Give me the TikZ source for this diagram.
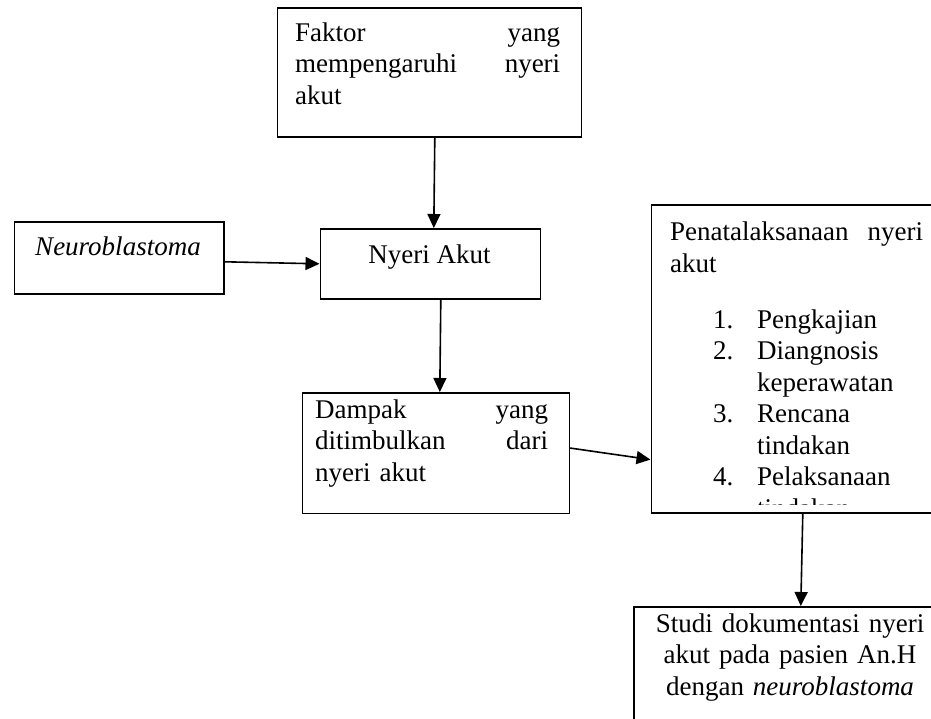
\documentclass[tikz,border=0pt]{standalone}
\usepackage{fontspec}
\setmainfont{Liberation Serif}
\usetikzlibrary{arrows.meta}
\tikzset{
  box/.style={draw, line width=1.6pt, anchor=north west, inner sep=0pt, rectangle},
  txt/.style={inner sep=0pt, font=\fontsize{27}{31.5}\selectfont},
  arr/.style={line width=1.6pt, -{Triangle[length=14pt,width=13pt]}},
}
\newcommand{\itemno}[1]{\hspace*{43pt}\makebox[44pt][l]{#1}}
\newcommand{\itemcont}{\hspace*{87pt}}
\begin{document}
\begin{tikzpicture}[x=1pt,y=-1pt]
\clip (0,0) rectangle (931,719);
\fill[white] (0,0) rectangle (931,719);

% boxes
\node[box, minimum width=304pt, minimum height=129.5pt] (faktor) at (276.5,7) {};
\node[box, minimum width=209.5pt, minimum height=72pt] (neuro) at (13.5,221) {};
\node[box, minimum width=220pt, minimum height=70pt] (nyeri) at (319.5,228) {};
\node[box, minimum width=267pt, minimum height=120.5pt] (dampak) at (301.5,392) {};
\node[box, minimum width=310pt, minimum height=308pt] (penata) at (650.5,204) {};
\node[box, minimum width=327pt, minimum height=154pt] (studi) at (633,606) {};

% texts
\node[txt, anchor=base west, text width=265pt, align=left] (faktort) at (295,41.5)
  {Faktor\hfill yang\\ mempengaruhi\hfill nyeri\\ akut};
\node[txt, anchor=base] (neurot) at (118,255) {\itshape Neuroblastoma};
\node[txt, anchor=base] (nyerit) at (429.5,263) {Nyeri Akut};
\node[txt, anchor=base west, text width=233pt, align=left] (dampakt) at (315,418)
  {Dampak\hfill yang\\ ditimbulkan\hfill dari\\ nyeri akut};
\begin{scope}
  \clip (penata.north west) rectangle ([yshift=9pt]penata.south east);
  \node[txt, anchor=base west, text width=253pt, align=left] (penatat) at (670,241)
    {Penatalaksanaan\hfill nyeri\\ akut\\[24pt]
     \itemno{1.}Pengkajian\\
     \itemno{2.}Diangnosis\\
     \itemcont keperawatan\\
     \itemno{3.}Rencana\\
     \itemcont tindakan\\
     \itemno{4.}Pelaksanaan\\
     \itemcont tindakan};
\end{scope}
\node[txt, anchor=base, text width=290pt, align=center] (studit) at (790,632)
  {Studi dokumentasi nyeri\\ akut pada pasien An.H\\ dengan \textit{neuroblastoma}};

% connectors
\draw[arr] ([xshift=5.5pt]faktor.south) -- ([xshift=3.5pt]nyeri.north);
\draw[arr] ([yshift=-4pt]neuro.east) -- (nyeri.west);
\draw[arr] ([xshift=10.5pt]nyeri.south) -- ([xshift=4pt]dampak.north);
\draw[arr] ([yshift=5pt]dampak.east) -- ([yshift=54pt]penata.south west);
\draw[arr] ([xshift=-3.5pt]penata.south) -- ([xshift=3.5pt]studi.north);
\end{tikzpicture}
\end{document}
